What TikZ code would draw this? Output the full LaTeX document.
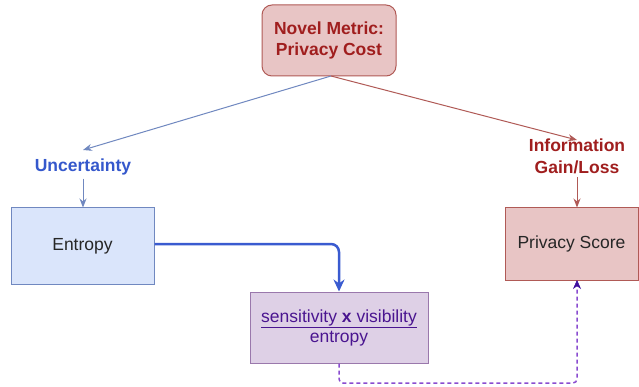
\documentclass[tikz,border=0pt]{standalone}
\usepackage{fontspec}
\setmainfont{Liberation Sans}
\usetikzlibrary{arrows.meta,positioning}
\definecolor{redfill}{HTML}{E8C5C5}
\definecolor{redline}{HTML}{B05A56}
\definecolor{redtext}{HTML}{A01E1E}
\definecolor{bluefill}{HTML}{DAE5FB}
\definecolor{blueline}{HTML}{7088C0}
\definecolor{bluetext}{HTML}{3558CC}
\definecolor{bluethick}{HTML}{3A5BD0}
\definecolor{purplefill}{HTML}{DED0E6}
\definecolor{purpleline}{HTML}{9A78AC}
\definecolor{purpletext}{HTML}{4A1590}
\definecolor{dashpurple}{HTML}{8A4CD0}
\definecolor{tippurple}{HTML}{3E0E9E}
\definecolor{darktext}{HTML}{262626}
\tikzset{
  every node/.style={font=\fontsize{17.5}{21}\selectfont, align=center},
  boxbase/.style={draw, line width=1pt, inner sep=0pt},
  redbox/.style={boxbase, fill=redfill, draw=redline},
  bluebox/.style={boxbase, fill=bluefill, draw=blueline},
  purplebox/.style={boxbase, fill=purplefill, draw=purpleline},
  tagblue/.style={text=bluetext, font=\fontsize{17.5}{21}\selectfont\bfseries},
  tagred/.style={text=redtext, font=\fontsize{17.5}{21}\selectfont\bfseries},
  arrblue/.style={draw=blueline, line width=1pt, -{Stealth[length=9pt,width=7pt]}},
  arrred/.style={draw=redline, line width=1pt, -{Stealth[length=9pt,width=7pt]}},
}
\begin{document}
\begin{tikzpicture}[x=1pt,y=-1pt]
\useasboundingbox[fill=white] (0,0) rectangle (639,387);

% boxes
\node[redbox, rounded corners=10pt, minimum width=134pt, minimum height=71pt,
      text=redtext, font=\fontsize{17.5}{20.5}\selectfont\bfseries]
  (metric) at (329,40.5) {Novel Metric:\\Privacy Cost};
\node[bluebox, minimum width=143pt, minimum height=76pt, text=darktext]
  (entropy) at (82.5,246) {Entropy};
\node[redbox, minimum width=133pt, minimum height=72pt, text=darktext]
  (score) at (571.5,244) {Privacy Score};
\node[purplebox, minimum width=178pt, minimum height=71pt, text=purpletext]
  (ratio) at (339,327.5) {\underline{sensitivity \textbf{x} visibility}\\[-1pt]entropy};

% labels
\node[tagblue] (uncert) at (83,167) {Uncertainty};
\node[tagred, font=\fontsize{17.5}{22}\selectfont\bfseries] (gain) at (577,156) {Information\\Gain/Loss};

% connectors
\coordinate (split) at (331,76);
\coordinate (uncertTip) at (83,150);
\coordinate (gainTip) at (577,140);
\coordinate (scoreIn) at (577,280);
\draw[arrblue] (split) -- (uncertTip);
\draw[arrred] (split) -- (gainTip);
\draw[arrblue] (uncert.south) -- (entropy.north -| uncert);
\draw[arrred] (gain.south) -- (score.north -| gain);

\draw[draw=bluethick, line width=2.5pt, rounded corners=8pt,
      -{Stealth[length=12pt,width=11pt]}]
  (entropy.east |- 0,244) -- (ratio.north |- 0,244) -- (ratio.north);

\coordinate (dashLow) at (339,383);
\draw[draw=dashpurple, line width=1.5pt, dash pattern=on 4pt off 3pt, rounded corners=4pt,
      -{Stealth[length=9pt,width=8pt,color=tippurple,line width=0.5pt]}]
  (ratio.south) -- (dashLow) -- (dashLow -| scoreIn) -- (scoreIn);
\end{tikzpicture}
\end{document}
